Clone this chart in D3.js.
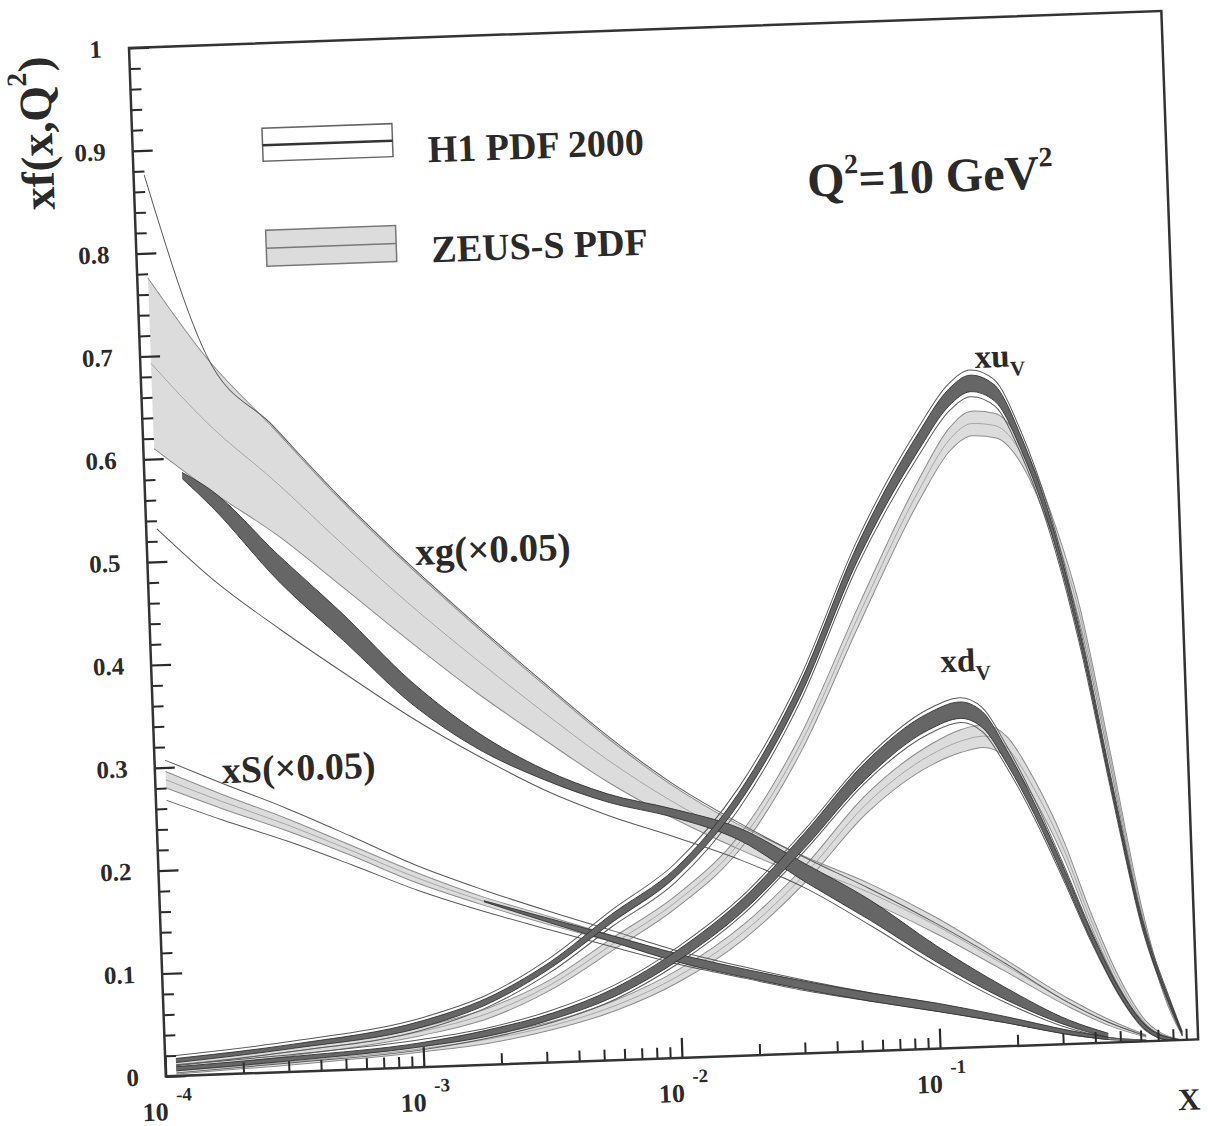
<!DOCTYPE html>
<html>
<head>
<meta charset="utf-8">
<title>xf(x,Q2) - H1 PDF 2000 vs ZEUS-S PDF</title>
<script src="https://cdn.jsdelivr.net/npm/d3@7"></script>
<style>
body { margin: 0; background: #fff; }
text { font-family: "Liberation Serif", "Times New Roman", serif; font-weight: bold; fill: #2a2a2a; }
</style>
</head>
<body>
<script>
// axis ticks
const yTicks = [0, 0.1, 0.2, 0.3, 0.4, 0.5, 0.6, 0.7, 0.8, 0.9, 1];
const yLabels = ["0", "0.1", "0.2", "0.3", "0.4", "0.5", "0.6", "0.7", "0.8", "0.9", "1"];
const xTicks = [1e-4, 1e-3, 1e-2, 1e-1];
const xExps = ["-4", "-3", "-2", "-1"];

// gluon and sea (both x0.05)
const xLow = [1.1e-4, 1.8e-4, 3.2e-4, 5.6e-4, 1e-3, 1.8e-3, 3.2e-3, 5.6e-3, 0.01, 0.018, 0.032, 0.056, 0.1, 0.18, 0.32, 0.45, 0.63];
const gZeusHi = [0.776, 0.697, 0.626, 0.556, 0.49, 0.428, 0.37, 0.315, 0.265, 0.224, 0.191, 0.163, 0.128, 0.086, 0.044, 0.023, 0.006];
const gZeusMid = [0.693, 0.632, 0.574, 0.513, 0.452, 0.395, 0.342, 0.293, 0.249, 0.212, 0.181, 0.154, 0.12, 0.08, 0.04, 0.02, 0.005];
const gZeusLo = [0.61, 0.567, 0.522, 0.47, 0.415, 0.362, 0.315, 0.271, 0.233, 0.2, 0.171, 0.145, 0.112, 0.074, 0.036, 0.017, 0.004];
const gH1Hi = [0.876, 0.70, 0.628, 0.558, 0.492, 0.43, 0.372, 0.317, 0.267, 0.226, 0.19, 0.158, 0.122, 0.082, 0.04, 0.02, 0.005];
const gH1Lo = [0.532, 0.48, 0.43, 0.385, 0.34, 0.30, 0.265, 0.238, 0.215, 0.19, 0.16, 0.122, 0.08, 0.043, 0.015, 0.005, 0.001];
const xgExp = [1.4e-4, 1.8e-4, 3.2e-4, 5.6e-4, 1e-3, 1.8e-3, 3.2e-3, 5.6e-3, 0.01, 0.018, 0.032, 0.056, 0.1, 0.18, 0.32, 0.45];
const gExpMid = [0.583, 0.56, 0.49, 0.43, 0.365, 0.315, 0.28, 0.255, 0.238, 0.215, 0.175, 0.137, 0.092, 0.052, 0.02, 0.007];
const gExpErr = [0.003, 0.008, 0.013, 0.013, 0.011, 0.008, 0.005, 0.004, 0.004, 0.006, 0.009, 0.01, 0.008, 0.006, 0.003, 0.002];

const sZeusMid = [0.288, 0.265, 0.24, 0.213, 0.184, 0.159, 0.138, 0.118, 0.097, 0.08, 0.065, 0.052, 0.04, 0.026, 0.011, 0.004, 0.001];
const sZeusErr = [0.008, 0.007, 0.006, 0.005, 0.005, 0.004, 0.004, 0.003, 0.003, 0.003, 0.003, 0.002, 0.002, 0.002, 0.001, 0.001, 0.0];
const sH1Hi = [0.307, 0.283, 0.256, 0.227, 0.196, 0.17, 0.147, 0.126, 0.104, 0.086, 0.07, 0.056, 0.043, 0.028, 0.012, 0.005, 0.001];
const sH1Lo = [0.268, 0.247, 0.224, 0.199, 0.172, 0.149, 0.129, 0.11, 0.091, 0.075, 0.06, 0.048, 0.036, 0.023, 0.009, 0.003, 0.0];
const xsExp = [1.8e-3, 3.2e-3, 5.6e-3, 0.01, 0.018, 0.032, 0.056, 0.1, 0.18, 0.32, 0.45];
const sExpMid = [0.159, 0.138, 0.118, 0.097, 0.08, 0.065, 0.052, 0.04, 0.026, 0.011, 0.004];
const sExpErr = [0.0005, 0.002, 0.003, 0.004, 0.004, 0.004, 0.004, 0.004, 0.003, 0.002, 0.001];

// valence quarks
const xVal = [1.1e-4, 3.2e-4, 1e-3, 1.8e-3, 3.2e-3, 5.6e-3, 0.01, 0.018, 0.032, 0.056, 0.1, 0.133, 0.162, 0.2, 0.25, 0.32, 0.4, 0.5, 0.63, 0.79, 0.87];
const uvH1Mid = [0.015, 0.025, 0.042, 0.062, 0.095, 0.138, 0.18, 0.25, 0.352, 0.484, 0.59, 0.632, 0.645, 0.635, 0.585, 0.5, 0.39, 0.25, 0.115, 0.035, 0.006];
const uvH1Exp = [0.002, 0.002, 0.003, 0.003, 0.003, 0.004, 0.004, 0.005, 0.006, 0.007, 0.008, 0.008, 0.008, 0.008, 0.007, 0.006, 0.005, 0.004, 0.003, 0.002, 0.001];
const uvH1Tot = [0.005, 0.005, 0.006, 0.006, 0.007, 0.008, 0.009, 0.01, 0.011, 0.012, 0.013, 0.013, 0.013, 0.013, 0.012, 0.011, 0.01, 0.008, 0.006, 0.004, 0.002];
const uvZeusMid = [0.011, 0.02, 0.035, 0.05, 0.076, 0.113, 0.152, 0.208, 0.302, 0.425, 0.545, 0.592, 0.606, 0.603, 0.575, 0.505, 0.415, 0.275, 0.125, 0.03, 0.006];
const uvZeusErr = [0.004, 0.004, 0.004, 0.005, 0.005, 0.006, 0.006, 0.007, 0.008, 0.009, 0.01, 0.011, 0.012, 0.012, 0.011, 0.01, 0.009, 0.008, 0.006, 0.003, 0.002];

const dvH1Mid = [0.007, 0.013, 0.022, 0.031, 0.045, 0.066, 0.1, 0.146, 0.207, 0.272, 0.318, 0.328, 0.318, 0.28, 0.23, 0.165, 0.103, 0.05, 0.013, 0.001, 0.0];
const dvH1Exp = [0.002, 0.002, 0.002, 0.003, 0.003, 0.004, 0.005, 0.006, 0.007, 0.008, 0.008, 0.008, 0.008, 0.007, 0.006, 0.005, 0.004, 0.003, 0.002, 0.001, 0.0];
const dvH1Tot = [0.004, 0.004, 0.005, 0.005, 0.006, 0.007, 0.008, 0.009, 0.01, 0.011, 0.012, 0.012, 0.012, 0.011, 0.01, 0.008, 0.006, 0.004, 0.003, 0.001, 0.0];
const dvZeusMid = [0.005, 0.01, 0.018, 0.025, 0.036, 0.053, 0.08, 0.12, 0.175, 0.24, 0.285, 0.298, 0.302, 0.29, 0.25, 0.19, 0.12, 0.06, 0.017, 0.002, 0.0];
const dvZeusErr = [0.003, 0.003, 0.003, 0.004, 0.004, 0.005, 0.006, 0.007, 0.008, 0.009, 0.01, 0.011, 0.011, 0.011, 0.01, 0.009, 0.007, 0.005, 0.003, 0.001, 0.0];

const width = 1033, height = 1029;

const svg = d3.select("body").append("svg")
    .attr("width", 1208)
    .attr("height", 1126);

svg.append("rect").attr("width", 1208).attr("height", 1126).attr("fill", "#fff");

// the scanned page is tilted by about two degrees
const g = svg.append("g")
    .attr("transform", "translate(129,48) rotate(-2.05)");

const x = d3.scaleLog().domain([1e-4, 1]).range([0, width]);
const y = d3.scaleLinear().domain([0, 1]).range([height, 0]);

g.append("clipPath").attr("id", "frame")
  .append("rect").attr("width", width).attr("height", height);

const plot = g.append("g").attr("clip-path", "url(#frame)");

const minus = (m, e) => m.map((v, i) => v - e[i]);
const plus = (m, e) => m.map((v, i) => v + e[i]);

function fillBand(xs, lo, hi, fill) {
    plot.append("path")
        .datum(xs.map((d, i) => [d, lo[i], hi[i]]))
        .attr("d", d3.area()
            .x(d => x(d[0]))
            .y0(d => y(d[1]))
            .y1(d => y(d[2]))
            .curve(d3.curveMonotoneX))
        .attr("fill", fill);
}

function curve(xs, ys, stroke, sw) {
    plot.append("path")
        .datum(xs.map((d, i) => [d, ys[i]]))
        .attr("d", d3.line()
            .x(d => x(d[0]))
            .y(d => y(d[1]))
            .curve(d3.curveMonotoneX))
        .attr("fill", "none")
        .attr("stroke", stroke)
        .attr("stroke-width", sw);
}

// ZEUS-S bands (light grey): [x, lower, centre, upper]
const zeus = [
    [xLow, gZeusLo, gZeusMid, gZeusHi],
    [xLow, minus(sZeusMid, sZeusErr), sZeusMid, plus(sZeusMid, sZeusErr)],
    [xVal, minus(uvZeusMid, uvZeusErr), uvZeusMid, plus(uvZeusMid, uvZeusErr)],
    [xVal, minus(dvZeusMid, dvZeusErr), dvZeusMid, plus(dvZeusMid, dvZeusErr)]
];
zeus.forEach(z => fillBand(z[0], z[1], z[3], "#dcdcdc"));
zeus.forEach(z => {
    curve(z[0], z[1], "#8c8c8c", 1);
    curve(z[0], z[3], "#8c8c8c", 1);
    curve(z[0], z[2], "#9a9a9a", 0.8);
});

// H1 total uncertainty (open band)
curve(xLow, gH1Hi, "#5a5a5a", 1);
curve(xLow, gH1Lo, "#5a5a5a", 1);
curve(xLow, sH1Hi, "#5a5a5a", 1);
curve(xLow, sH1Lo, "#5a5a5a", 1);
curve(xVal, plus(uvH1Mid, uvH1Tot), "#5a5a5a", 1);
curve(xVal, minus(uvH1Mid, uvH1Tot), "#5a5a5a", 1);
curve(xVal, plus(dvH1Mid, dvH1Tot), "#5a5a5a", 1);
curve(xVal, minus(dvH1Mid, dvH1Tot), "#5a5a5a", 1);

// H1 experimental uncertainty (dark band)
const h1 = [
    [xgExp, gExpMid, gExpErr],
    [xsExp, sExpMid, sExpErr],
    [xVal, uvH1Mid, uvH1Exp],
    [xVal, dvH1Mid, dvH1Exp]
];
h1.forEach(b => {
    fillBand(b[0], minus(b[1], b[2]), plus(b[1], b[2]), "#666");
    curve(b[0], minus(b[1], b[2]), "#333", 0.9);
    curve(b[0], plus(b[1], b[2]), "#333", 0.9);
});

// axes
const axisFont = s => s.attr("font-family", null).attr("font-size", 25).attr("color", "#2a2a2a");

g.append("g")
    .call(d3.axisLeft(y).tickValues(yTicks).tickSizeInner(-20).tickSizeOuter(0)
        .tickPadding(27).tickFormat((d, i) => yLabels[i]))
    .call(axisFont)
    .call(s => s.select(".domain").remove())
    .call(s => s.selectAll("line").attr("stroke-width", 2.2));

g.append("g")
    .call(d3.axisLeft(y).tickValues(d3.range(0.02, 1, 0.02).filter(d => Math.round(d * 50) % 5 !== 0))
        .tickSizeInner(-11).tickSizeOuter(0).tickFormat(""))
    .call(axisFont)
    .call(s => s.select(".domain").remove())
    .call(s => s.selectAll("line").attr("stroke-width", 2));

const xMinor = [];
xTicks.forEach(t => { for (let k = 2; k <= 9; k++) xMinor.push(t * k); });

g.append("g")
    .attr("transform", "translate(0," + height + ")")
    .call(d3.axisBottom(x).tickValues(xMinor).tickSizeInner(-11).tickSizeOuter(0).tickFormat(""))
    .call(axisFont)
    .call(s => s.select(".domain").remove())
    .call(s => s.selectAll("line").attr("stroke-width", 2));

const xAxis = g.append("g")
    .attr("transform", "translate(0," + height + ")")
    .call(d3.axisBottom(x).tickValues(xTicks).tickSizeInner(-20).tickSizeOuter(0).tickFormat(""))
    .call(axisFont)
    .call(s => s.select(".domain").remove())
    .call(s => s.selectAll("line").attr("stroke-width", 2.2));

xAxis.selectAll(".tick text").remove();
xAxis.selectAll(".tick").each(function(d, i) {
    const t = d3.select(this).append("text")
        .attr("y", 44)
        .attr("text-anchor", "middle")
        .attr("font-size", 26);
    t.append("tspan").text("10");
    t.append("tspan").attr("dx", 8).attr("dy", -19).attr("font-size", 19).text(xExps[i]);
});

// frame
g.append("rect")
    .attr("width", width)
    .attr("height", height)
    .attr("fill", "none")
    .attr("stroke", "#333")
    .attr("stroke-width", 2.5);

// axis titles
g.append("text")
    .attr("x", width)
    .attr("y", height + 70)
    .attr("text-anchor", "end")
    .attr("font-size", 31)
    .text("X");

const yTitle = g.append("text")
    .attr("transform", "translate(-80,82) rotate(-90)")
    .attr("text-anchor", "middle")
    .attr("font-size", 46);
yTitle.append("tspan").text("xf(x,Q");
yTitle.append("tspan").attr("font-size", 28).attr("dy", -24).text("2");
yTitle.append("tspan").attr("dy", 24).text(")");

// legend
g.append("rect").attr("x", 130).attr("y", 85).attr("width", 130).attr("height", 33)
    .attr("fill", "#fff").attr("stroke", "#666").attr("stroke-width", 1.5);
g.append("line").attr("x1", 130).attr("x2", 260).attr("y1", 102).attr("y2", 102)
    .attr("stroke", "#333").attr("stroke-width", 2.5);
g.append("text").attr("x", 295).attr("y", 125).attr("font-size", 38).text("H1 PDF 2000");

g.append("rect").attr("x", 130).attr("y", 187).attr("width", 130).attr("height", 36)
    .attr("fill", "#dcdcdc").attr("stroke", "#777").attr("stroke-width", 1.5);
g.append("line").attr("x1", 130).attr("x2", 260).attr("y1", 205).attr("y2", 205)
    .attr("stroke", "#777").attr("stroke-width", 1.5);
g.append("text").attr("x", 295).attr("y", 225).attr("font-size", 38).text("ZEUS-S PDF");

const qLabel = g.append("text").attr("x", 673).attr("y", 173).attr("font-size", 48);
qLabel.append("tspan").text("Q");
qLabel.append("tspan").attr("font-size", 28).attr("dy", -22).text("2");
qLabel.append("tspan").attr("dy", 22).text("=10 GeV");
qLabel.append("tspan").attr("font-size", 28).attr("dy", -22).text("2");

// curve labels
const uvLabel = g.append("text").attr("x", 834).attr("y", 350).attr("font-size", 33);
uvLabel.append("tspan").text("xu");
uvLabel.append("tspan").attr("font-size", 21).attr("dy", 9).text("V");

const dvLabel = g.append("text").attr("x", 789).attr("y", 653).attr("font-size", 33);
dvLabel.append("tspan").text("xd");
dvLabel.append("tspan").attr("font-size", 21).attr("dy", 9).text("V");

g.append("text").attr("x", 268).attr("y", 527).attr("font-size", 39).text("xg(\u00d70.05)");
g.append("text").attr("x", 67).attr("y", 738).attr("font-size", 38).text("xS(\u00d70.05)");
</script>
</body>
</html>
